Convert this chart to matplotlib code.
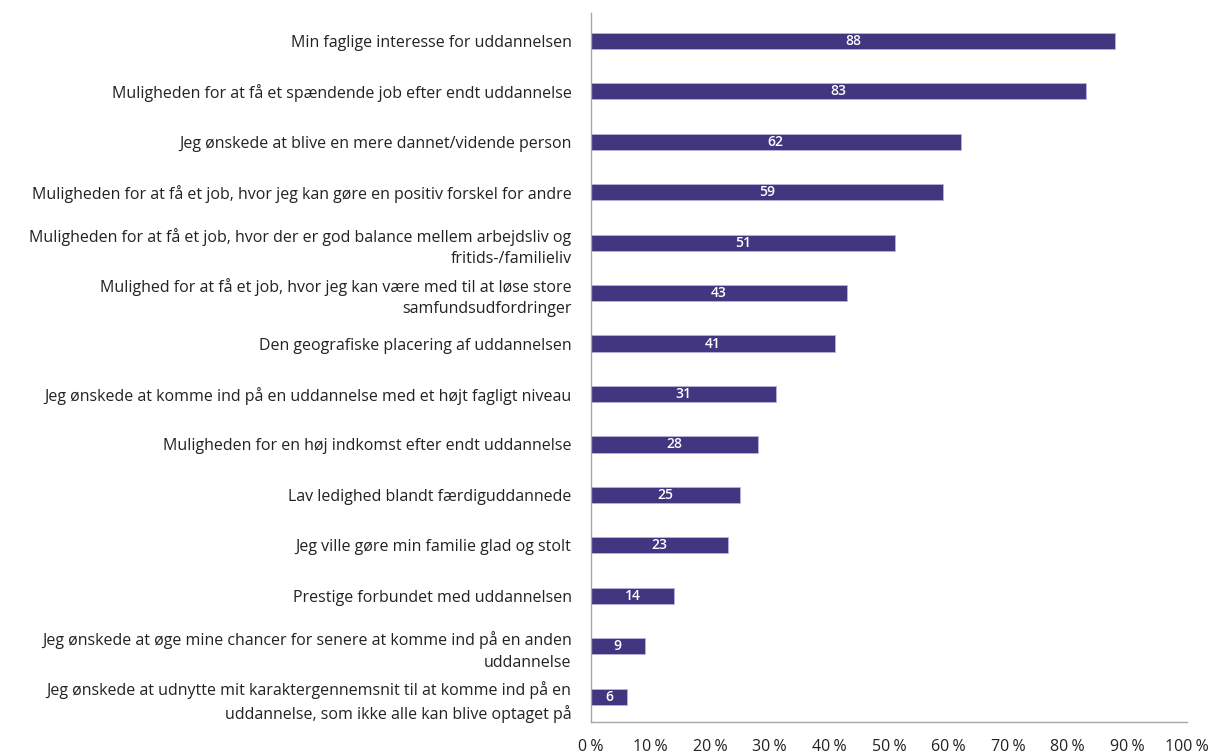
import matplotlib
matplotlib.use("Agg")
import matplotlib.pyplot as plt

categories = [
    "Min faglige interesse for uddannelsen",
    "Muligheden for at få et spændende job efter endt uddannelse",
    "Jeg ønskede at blive en mere dannet/vidende person",
    "Muligheden for at få et job, hvor jeg kan gøre en positiv forskel for andre",
    "Muligheden for at få et job, hvor der er god balance mellem arbejdsliv og\nfritids-/familieliv",
    "Mulighed for at få et job, hvor jeg kan være med til at løse store\nsamfundsudfordringer",
    "Den geografiske placering af uddannelsen",
    "Jeg ønskede at komme ind på en uddannelse med et højt fagligt niveau",
    "Muligheden for en høj indkomst efter endt uddannelse",
    "Lav ledighed blandt færdiguddannede",
    "Jeg ville gøre min familie glad og stolt",
    "Prestige forbundet med uddannelsen",
    "Jeg ønskede at øge mine chancer for senere at komme ind på en anden\nuddannelse",
    "Jeg ønskede at udnytte mit karaktergennemsnit til at komme ind på en\nuddannelse, som ikke alle kan blive optaget på",
]
values = [88, 83, 62, 59, 51, 43, 41, 31, 28, 25, 23, 14, 9, 6]
xticks = [0, 10, 20, 30, 40, 50, 60, 70, 80, 90, 100]
xticklabels = [f"{t}\u202f%" for t in xticks]

plt.rcParams['font.family'] = ['Open Sans', 'DejaVu Sans']

fig = plt.figure(figsize=(12.12, 7.56), dpi=100)
ax = fig.add_axes([591/1212, 1-722/756, (1187-591)/1212, (722-13)/756])

color = "#41367f"
ypos = list(range(len(categories)))
bars = ax.barh(ypos, values, height=0.32, color=color, edgecolor="#b9b3dd", linewidth=0.6)
for y, v in zip(ypos, values):
    ax.text(v/2, y, str(v), color="white", ha="center", va="center", fontsize=10, fontweight="semibold")

ax.set_yticks(ypos)
ax.set_yticklabels(categories, fontsize=11.5, color="#222222", linespacing=1.45)
ax.set_ylim(len(categories)-0.5, -0.55)
ax.set_xlim(0, 100)
ax.set_xticks(xticks)
ax.set_xticklabels(xticklabels, fontsize=11.5, color="#222222")
ax.tick_params(axis="both", length=0)
ax.tick_params(axis="x", pad=12)
ax.tick_params(axis="y", pad=14)
for s in ["top", "right"]:
    ax.spines[s].set_visible(False)
for s in ["left", "bottom"]:
    ax.spines[s].set_color("#a6a6a6")
    ax.spines[s].set_linewidth(1.0)

fig.savefig("out.png", dpi=100)
